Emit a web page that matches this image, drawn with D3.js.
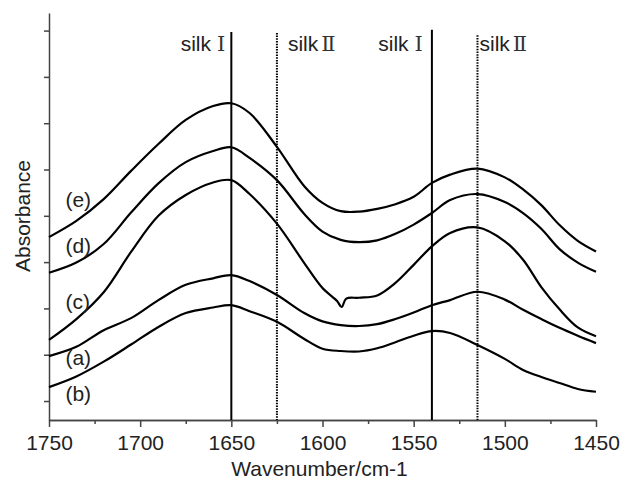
<!DOCTYPE html>
<html>
<head>
<meta charset="utf-8">
<script src="https://cdn.jsdelivr.net/npm/d3@7"></script>
<style>
  body { margin: 0; background: #fff; }
  svg text { font-family: "Liberation Sans", Arial, sans-serif; fill: #222; }
  .axis path, .axis line { stroke: #444; stroke-width: 1.5; }
  .axis text { font-size: 21px; }
  .curve { fill: none; stroke: #000; stroke-width: 2.2; stroke-linejoin: round; }
  .marker { stroke: #000; stroke-width: 2; }
  .marker.dotted { stroke-width: 2; stroke-dasharray: 1.5 1.2; }
  .roman { font-family: "DejaVu Serif", "Liberation Serif", serif; font-weight: 300; fill: #333; }
</style>
</head>
<body>
<svg id="chart" width="622" height="485"></svg>
<script>
// FTIR amide I / amide II region, curves (a)-(e)
const WAVENUMBERS = [1750, 1735, 1720, 1705, 1690, 1675, 1660, 1650, 1640, 1625, 1610, 1600, 1590,
  1580, 1570, 1560, 1550, 1540, 1530, 1515, 1500, 1490, 1480, 1470, 1460, 1450];
const CURVE_A = [0.97, 1.17, 1.53, 1.79, 2.18, 2.51, 2.65, 2.72, 2.59, 2.29, 1.90, 1.72, 1.64,
  1.62, 1.66, 1.77, 1.91, 2.07, 2.18, 2.36, 2.19, 1.97, 1.77, 1.58, 1.41, 1.25];
const CURVE_B = [0.30, 0.53, 0.85, 1.22, 1.60, 1.90, 2.02, 2.07, 1.94, 1.71, 1.34, 1.13, 1.08,
  1.07, 1.14, 1.27, 1.41, 1.51, 1.47, 1.21, 0.91, 0.67, 0.52, 0.39, 0.26, 0.20];
const CURVE_D = [2.77, 2.99, 3.39, 4.07, 4.70, 5.16, 5.40, 5.48, 5.25, 4.77, 4.04, 3.66, 3.48,
  3.43, 3.47, 3.61, 3.81, 4.06, 4.34, 4.47, 4.30, 4.06, 3.72, 3.28, 2.99, 2.79];
const CURVE_E = [3.54, 3.89, 4.36, 4.97, 5.55, 6.07, 6.37, 6.43, 6.22, 5.49, 4.64, 4.28, 4.10,
  4.09, 4.15, 4.25, 4.41, 4.71, 4.89, 5.02, 4.83, 4.57, 4.23, 3.80, 3.46, 3.23];
// curve (c) has a small notch near 1590
const WAVENUMBERS_C = [1750, 1735, 1720, 1705, 1690, 1675, 1660, 1650, 1640, 1625, 1610, 1600, 1592,
  1589.5, 1587, 1580, 1570, 1560, 1550, 1540, 1530, 1515, 1500, 1490, 1480, 1470, 1460, 1450];
const CURVE_C = [1.32, 1.77, 2.35, 3.22, 4.00, 4.45, 4.72, 4.77, 4.47, 3.83, 2.98, 2.44, 2.16,
  2.03, 2.21, 2.23, 2.28, 2.55, 2.94, 3.34, 3.63, 3.75, 3.45, 3.05, 2.46, 1.98, 1.59, 1.40];

const CURVE_LABELS = ["(e)", "(d)", "(c)", "(a)", "(b)"];
const LABEL_WN = 1741;
const LABEL_ABS = [4.18, 3.19, 1.98, 0.78, 0.01];

const MARKER_WN = [1650, 1625, 1540, 1515];
const MARKER_TOP = [7.97, 7.95, 8.02, 7.9];
const MARKER_NAME = ["silk", "silk", "silk", "silk"];
const MARKER_ROMAN = ["Ⅰ", "Ⅱ", "Ⅰ", "Ⅱ"];
const MARKER_DOTTED = [false, true, false, true];

const X_MAJOR = [1750, 1700, 1650, 1600, 1550, 1500, 1450];
const X_MINOR = [1725, 1675, 1625, 1575, 1525, 1475];
const Y_TICKS = [0, 1, 2, 3, 4, 5, 6, 7, 8];

const svg = d3.select("#chart");
const x = d3.scaleLinear().domain([1750, 1450]).range([49, 596]);
const y = d3.scaleLinear().domain([-0.41, 8.38]).range([420, 13]);

// axes
svg.append("g").attr("class", "axis")
  .attr("transform", `translate(0,${y.range()[0]})`)
  .call(d3.axisBottom(x).tickValues(X_MINOR).tickSize(4).tickSizeOuter(0).tickFormat(""));
const xAxis = svg.append("g").attr("class", "axis")
  .attr("transform", `translate(0,${y.range()[0]})`)
  .call(d3.axisBottom(x).tickValues(X_MAJOR).tickSize(7).tickSizeOuter(0).tickFormat(d3.format("d")));
xAxis.selectAll("text").attr("dy", "0.71em").attr("y", 15).attr("fill", "#222");

svg.append("g").attr("class", "axis")
  .attr("transform", `translate(${x.range()[0]},0)`)
  .call(d3.axisLeft(y).tickValues(Y_TICKS).tickSize(5).tickSizeOuter(0).tickFormat(""));

// marker lines
MARKER_WN.forEach((wn, i) => {
  svg.append("line")
    .attr("class", MARKER_DOTTED[i] ? "marker dotted" : "marker")
    .attr("x1", x(wn)).attr("x2", x(wn))
    .attr("y1", y(MARKER_TOP[i])).attr("y2", y.range()[0]);
});

// marker labels
const labelPlace = [
  { anchor: "end", dx: -6 },
  { anchor: "start", dx: 11 },
  { anchor: "end", dx: -9 },
  { anchor: "start", dx: 2 },
];
MARKER_WN.forEach((wn, i) => {
  const t = svg.append("text")
    .attr("x", x(wn) + labelPlace[i].dx)
    .attr("y", 51)
    .attr("text-anchor", labelPlace[i].anchor)
    .style("font-size", "21px");
  t.append("tspan").text(MARKER_NAME[i]);
  t.append("tspan").attr("class", "roman").attr("dx", MARKER_ROMAN[i] === "Ⅰ" ? 6 : 3)
    .style("font-size", "21px").text(MARKER_ROMAN[i]);
});

// curves
const line = d3.line()
  .x((d) => x(d[0]))
  .y((d) => y(d[1]))
  .curve(d3.curveCatmullRom.alpha(0.5));

const series = [
  { wn: WAVENUMBERS, v: CURVE_E },
  { wn: WAVENUMBERS, v: CURVE_D },
  { wn: WAVENUMBERS_C, v: CURVE_C },
  { wn: WAVENUMBERS, v: CURVE_A },
  { wn: WAVENUMBERS, v: CURVE_B },
];
svg.append("g").selectAll("path.curve")
  .data(series)
  .enter().append("path")
  .attr("class", "curve")
  .attr("d", (s) => line(s.wn.map((w, i) => [w, s.v[i]])));

// curve labels
svg.append("g").selectAll("text.clabel")
  .data(CURVE_LABELS)
  .enter().append("text")
  .attr("class", "clabel")
  .attr("x", x(LABEL_WN))
  .attr("y", (d, i) => y(LABEL_ABS[i]))
  .style("font-size", "21px")
  .text((d) => d);

// axis titles
svg.append("text")
  .attr("x", (x.range()[0] + x.range()[1]) / 2 - 3)
  .attr("y", 476)
  .attr("text-anchor", "middle")
  .style("font-size", "21px")
  .text("Wavenumber/cm-1");

svg.append("text")
  .attr("transform", "translate(30,216) rotate(-90)")
  .attr("text-anchor", "middle")
  .style("font-size", "21px")
  .text("Absorbance");
</script>
</body>
</html>
